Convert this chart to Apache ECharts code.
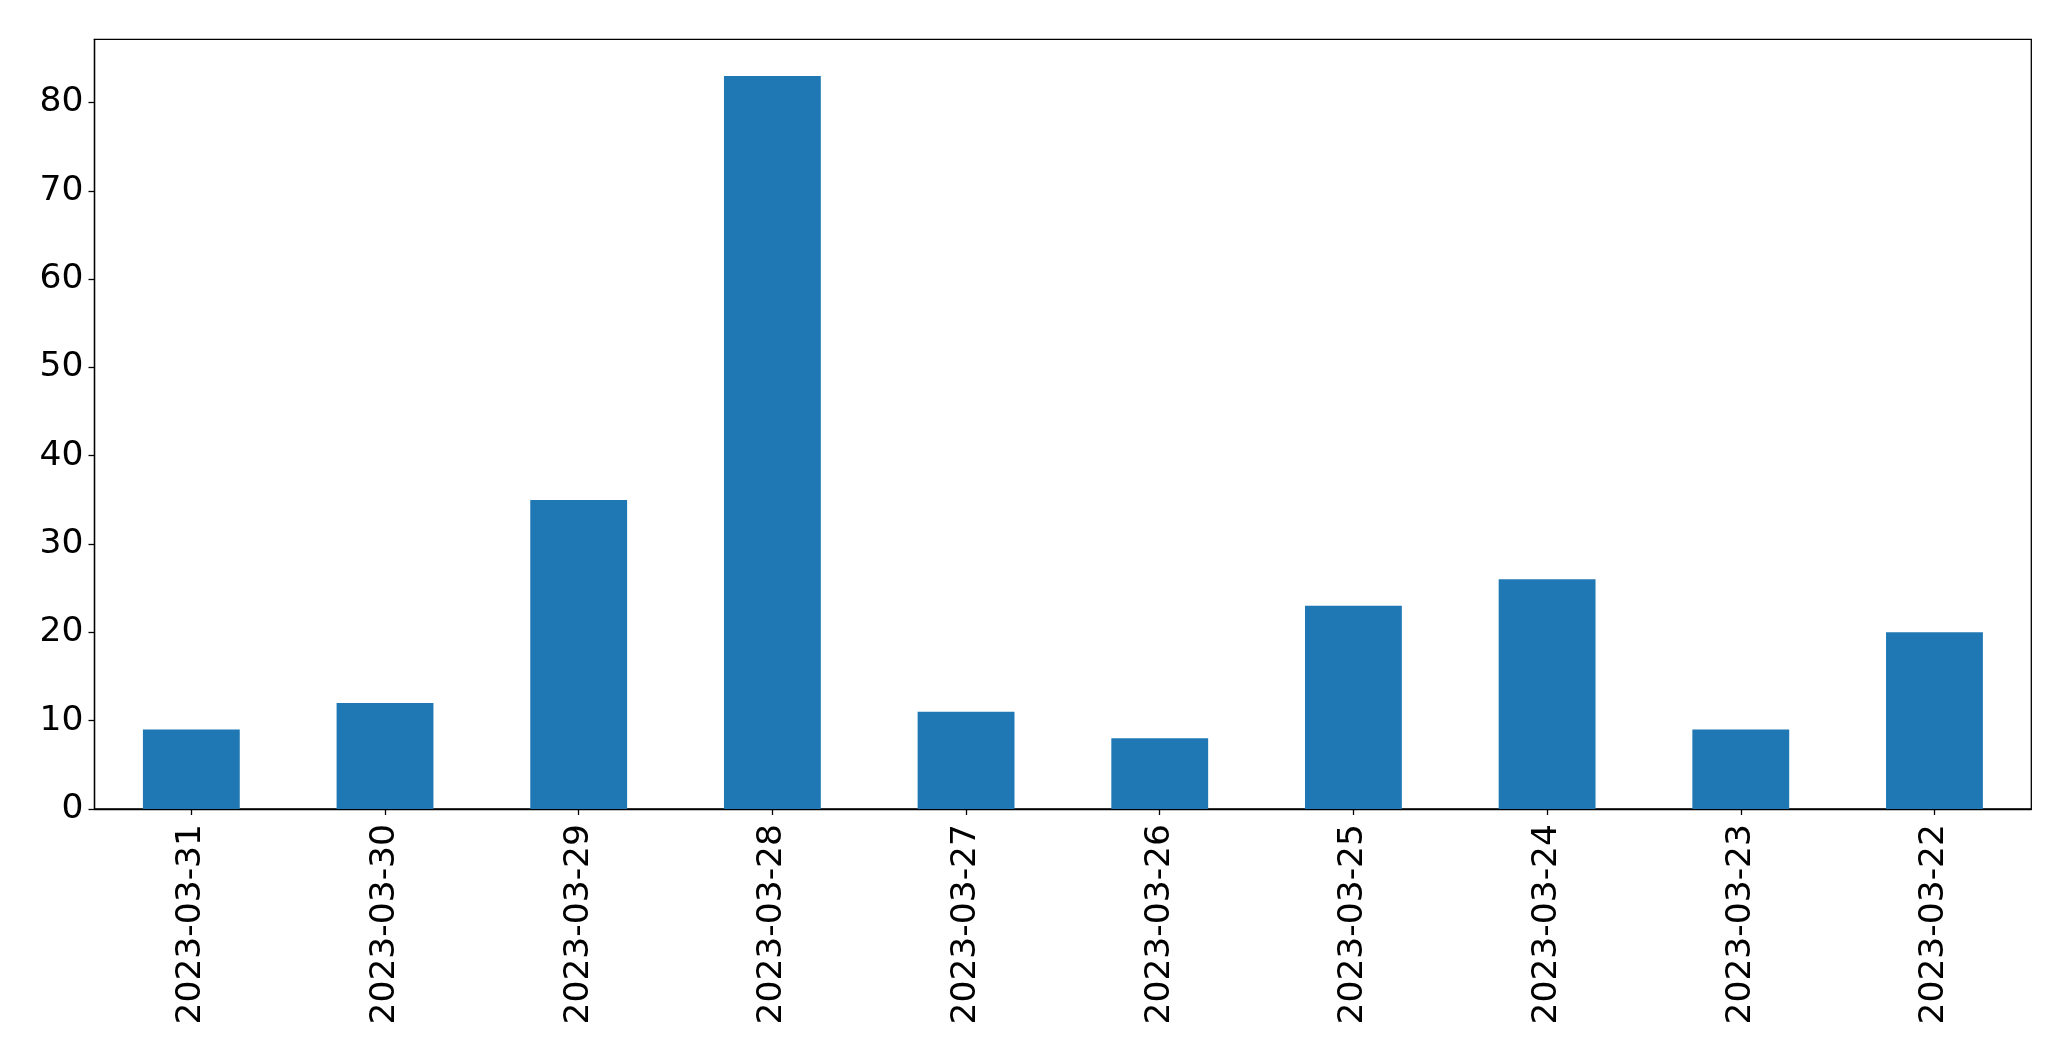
<!DOCTYPE html>
<html>
<head>
<meta charset="utf-8">
<script src="https://cdn.jsdelivr.net/npm/echarts@6/dist/echarts.min.js"></script>
<style>
html,body{margin:0;padding:0;background:#fff;}
#chart{width:2071px;height:1061px;}
</style>
</head>
<body>
<div id="chart"></div>
<script>
const categories = ['2023-03-31','2023-03-30','2023-03-29','2023-03-28','2023-03-27','2023-03-26','2023-03-25','2023-03-24','2023-03-23','2023-03-22'];
const values = [9, 12, 35, 83, 11, 8, 23, 26, 9, 20];
const yTicks = [0, 10, 20, 30, 40, 50, 60, 70, 80];

const chart = echarts.init(document.getElementById('chart'), null, {renderer: 'canvas'});
const font = 'DejaVu Sans';
chart.setOption({
  animation: false,
  backgroundColor: '#fff',
  grid: {
    left: 94.5, right: 39.7, top: 39.3, bottom: 252,
    show: true, borderColor: '#000', borderWidth: 1.3, backgroundColor: 'transparent'
  },
  xAxis: {
    type: 'category',
    data: categories,
    boundaryGap: true,
    axisLine: {show: true, lineStyle: {color: '#000', width: 1.3}},
    axisTick: {show: true, alignWithLabel: true, length: 6, lineStyle: {color: '#000', width: 1.3}},
    axisLabel: {rotate: 90, margin: 15, color: '#000', fontFamily: font, fontSize: 34.5, interval: 0}
  },
  yAxis: {
    type: 'value',
    min: 0,
    max: 87.15,
    interval: 10,
    splitLine: {show: false},
    axisLine: {show: true, lineStyle: {color: '#000', width: 1.3}},
    axisTick: {show: true, length: 6, customValues: yTicks, lineStyle: {color: '#000', width: 1.3}},
    axisLabel: {customValues: yTicks, margin: 11, color: '#000', fontFamily: font, fontSize: 34.5}
  },
  series: [{
    type: 'bar',
    data: values,
    barWidth: '50%',
    itemStyle: {color: '#1f77b4'}
  }]
});
</script>
</body>
</html>
